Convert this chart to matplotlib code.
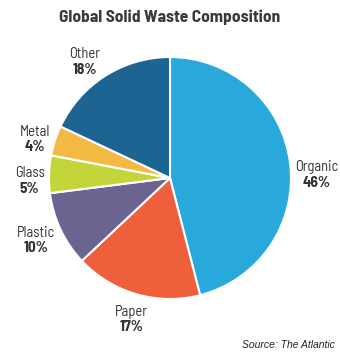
import numpy as np
import matplotlib
matplotlib.use("Agg")
import matplotlib.pyplot as plt

categories = ["Organic", "Paper", "Plastic", "Glass", "Metal", "Other"]
values = [46, 17, 10, 5, 4, 18]
colors = ["#29a8dc", "#ee5f3b", "#6c6490", "#c4d53a", "#f4b942", "#1c6492"]

FAM = ["Barlow Semi Condensed", "Liberation Sans Narrow", "DejaVu Sans"]

fig = plt.figure(figsize=(3.4, 3.6), dpi=100)
ax = fig.add_axes([0, 0, 1, 1])
R = 121.0
wedges, _ = ax.pie(values, colors=colors, startangle=90, counterclock=False,
                   wedgeprops=dict(edgecolor="white", linewidth=1.5))
ax.set_aspect("equal")
ax.set_xlim(-170 / R, 170 / R)
ax.set_ylim(-182 / R, 178 / R)
ax.axis("off")

label_r = [1.21, 1.21, 1.22, 1.16, 1.16, 1.19]
angle_adj = [-6, 1, 0, 3, 2, 4]
for w, name, v, lr, adj in zip(wedges, categories, values, label_r, angle_adj):
    mid = np.deg2rad((w.theta1 + w.theta2) / 2 + adj)
    x, y = lr * np.cos(mid), lr * np.sin(mid)
    ax.text(x, y + 0.005, name, ha="center", va="bottom", fontsize=10.5,
            family=FAM, color="#333333")
    ax.text(x, y - 0.005, f"{v}%", ha="center", va="top", fontsize=11,
            family=FAM, fontweight="bold", color="#333333")

fig.text(0.5, 1 - 17 / 360, "Global Solid Waste Composition", ha="center", va="center",
         fontsize=12.5, fontweight="bold", family=FAM, color="#3a3a3a")
fig.text(335 / 340, 1 - 345 / 360, "Source: The Atlantic", ha="right", va="center",
         fontsize=7.5, style="italic", family="Liberation Sans", color="#222222")

fig.savefig("out.png", dpi=100)
